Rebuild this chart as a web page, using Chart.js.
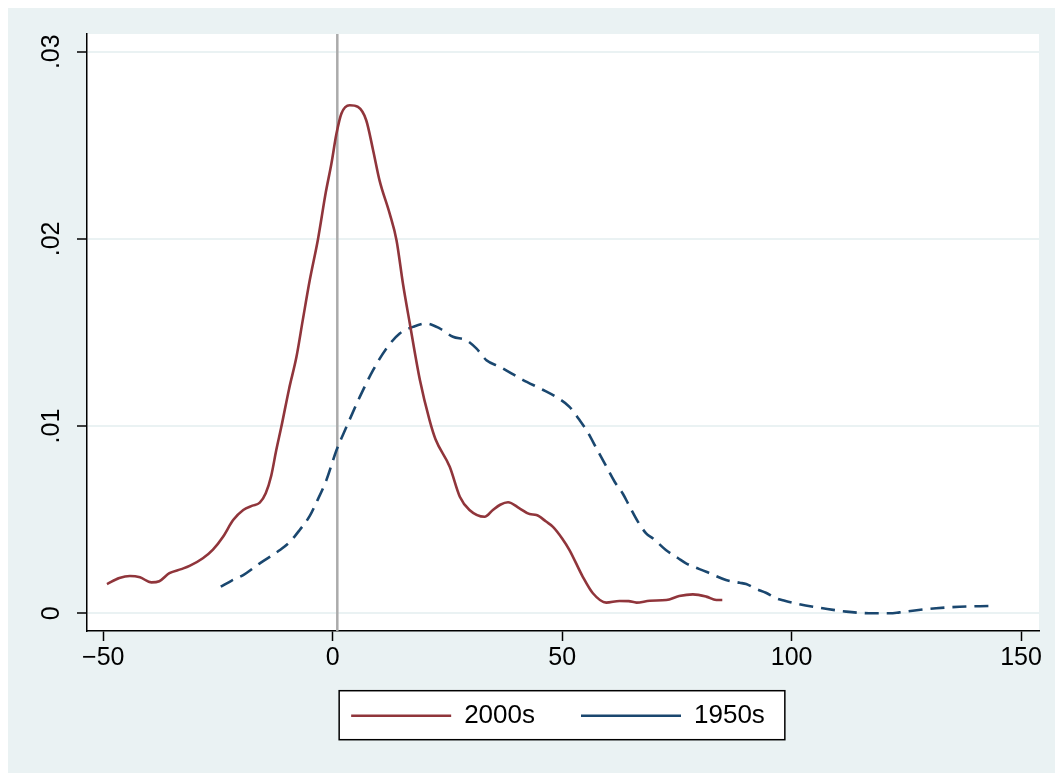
<!DOCTYPE html>
<html>
<head>
<meta charset="utf-8">
<script src="https://cdn.jsdelivr.net/npm/chart.js@4.4.1/dist/chart.umd.min.js"></script>
<style>
    html, body { margin: 0; padding: 0; background: #ffffff; }
    #wrap { position: absolute; left: 8px; top: 8px; width: 1047px; height: 765px; background: #eaf2f3; }
</style>
</head>
<body>
<div id="wrap"><canvas id="densityChart" width="1047" height="765"></canvas></div>
<script>
// density estimates
const x2000s = [-49.2, -46.5, -44.2, -42.0, -39.5, -37.8, -35.6, -33.0, -31.2, -28.3, -26.1, -23.9, -21.7, -19.5, -17.5, -15.9, -14.6, -13.4, -12.3, -11.2, -9.5, -7.9, -6.5, -5.0, -3.2, -1.5, -0.3, 0.8, 1.9, 3.7, 5.5, 7.3, 8.8, 10.2, 12.4, 13.9, 15.3, 16.8, 19.0, 21.1, 22.4, 25.5, 27.7, 29.8, 33.1, 34.9, 36.5, 38.2, 40.7, 42.9, 44.4, 46.5, 48.0, 50.0, 51.6, 54.5, 56.7, 59.6, 62.5, 64.5, 66.2, 69.1, 72.7, 75.5, 78.5, 81.4, 83.6, 84.9];
const y2000s = [0.00156, 0.00188, 0.00199, 0.00192, 0.00165, 0.00171, 0.00214, 0.00236, 0.00253, 0.00294, 0.0034, 0.00409, 0.00498, 0.00552, 0.00575, 0.00591, 0.00641, 0.00735, 0.00872, 0.00996, 0.012, 0.0137, 0.0157, 0.0178, 0.02, 0.0225, 0.024, 0.0256, 0.0267, 0.02714, 0.02705, 0.02634, 0.02474, 0.02313, 0.02136, 0.01993, 0.01762, 0.01548, 0.01246, 0.01032, 0.0093, 0.00783, 0.00623, 0.00552, 0.00516, 0.00552, 0.0058, 0.00593, 0.00561, 0.0053, 0.00525, 0.0049, 0.00462, 0.004, 0.00338, 0.00195, 0.00107, 0.00057, 0.00066, 0.00065, 0.00057, 0.00067, 0.00071, 0.00092, 0.00101, 0.00089, 0.00071, 0.00071];

const x1950s = [-24.4, -22.0, -19.5, -15.9, -11.5, -9.4, -7.2, -5.0, -3.6, -1.4, 0.8, 3.0, 5.9, 8.8, 11.7, 14.6, 17.5, 20.4, 23.3, 26.2, 29.1, 31.3, 33.5, 36.4, 41.5, 45.5, 48.7, 51.6, 53.8, 55.5, 57.5, 59.5, 61.5, 63.2, 64.5, 66.5, 68.3, 69.8, 72.6, 75.3, 77.0, 81.4, 85.7, 88.7, 90.1, 92.3, 94.4, 96.7, 98.5, 101.7, 106.8, 111.9, 117.7, 121.4, 123.5, 126.4, 131.5, 136.6, 143.1];
const y1950s = [0.00142, 0.00175, 0.00204, 0.00267, 0.00338, 0.0038, 0.00445, 0.0052, 0.0059, 0.0071, 0.0087, 0.00996, 0.01156, 0.01299, 0.01415, 0.01495, 0.0153, 0.01548, 0.01522, 0.01477, 0.01459, 0.01415, 0.01352, 0.01317, 0.01246, 0.01198, 0.01156, 0.01103, 0.01032, 0.0097, 0.0088, 0.0079, 0.007, 0.0064, 0.0058, 0.0049, 0.00427, 0.004, 0.00338, 0.00294, 0.00267, 0.00222, 0.00178, 0.00163, 0.00156, 0.0013, 0.0011, 0.0008, 0.00067, 0.00048, 0.00027, 0.00009, 0.0, 0.0, 0.00005, 0.00014, 0.00027, 0.00035, 0.00039];

const seriesLabels = ["2000s", "1950s"];
const xTicks = [-50, 0, 50, 100, 150];
const yTicks = [0, 0.01, 0.02, 0.03];
const refLineX = 1;
const xRange = [-53.55, 153.92];
const yRange = [-0.000946, 0.030946];

const maroon = "#90353b";
const navy = "#1a476f";
const bgColor = "#eaf2f3";
const fontFamily = "'Liberation Sans', Arial, Helvetica, sans-serif";
const legendShiftX = -5;
const legendShiftY = -19.3;

function toPoints(xs, ys) {
    return xs.map((x, i) => ({ x: x, y: ys[i] }));
}

function formatY(val) {
    if (val === 0) return "0";
    return val.toFixed(2).replace(/^0/, "");
}

function formatX(val) {
    return val < 0 ? "\u2212" + Math.abs(val) : String(val);
}

// white plot region and the boxed legend
const stataFrame = {
    id: "stataFrame",
    afterLayout(chart) {
        const lg = chart.legend;
        lg.left += legendShiftX;
        lg.right += legendShiftX;
        lg.top += legendShiftY;
        lg.bottom += legendShiftY;
    },
    beforeDraw(chart) {
        const { ctx, chartArea } = chart;
        ctx.save();
        ctx.fillStyle = "#ffffff";
        ctx.fillRect(chartArea.left, chartArea.top, chartArea.right - chartArea.left, chartArea.bottom - chartArea.top);
        const boxes = chart.legend.legendHitBoxes || [];
        if (boxes.length) {
            const first = boxes[0];
            const last = boxes[boxes.length - 1];
            const x0 = first.left - 12;
            const x1 = last.left + last.width + 20;
            const y0 = first.top - 12;
            const y1 = first.top + first.height + 11;
            ctx.fillRect(x0, y0, x1 - x0, y1 - y0);
            ctx.strokeStyle = "#000000";
            ctx.lineWidth = 1.5;
            ctx.strokeRect(x0, y0, x1 - x0, y1 - y0);
        }
        ctx.restore();
    },
};

const ctx = document.getElementById("densityChart").getContext("2d");

new Chart(ctx, {
    type: "line",
    data: {
        datasets: [
            {
                label: seriesLabels[0],
                data: toPoints(x2000s, y2000s),
                borderColor: maroon,
                backgroundColor: maroon,
                borderWidth: 2.6,
                pointRadius: 0,
                cubicInterpolationMode: "monotone",
                fill: false,
            },
            {
                label: seriesLabels[1],
                data: toPoints(x1950s, y1950s),
                borderColor: navy,
                backgroundColor: navy,
                borderWidth: 2.6,
                borderDash: [14, 8],
                pointRadius: 0,
                cubicInterpolationMode: "monotone",
                fill: false,
            },
            {
                label: "ref",
                data: [
                    { x: refLineX, y: yRange[0] },
                    { x: refLineX, y: yRange[1] },
                ],
                borderColor: "#ababab",
                borderWidth: 2.5,
                pointRadius: 0,
                fill: false,
            },
        ],
    },
    options: {
        responsive: false,
        animation: false,
        events: [],
        layout: {
            padding: { left: 0, top: 26, right: 16, bottom: 15 },
        },
        scales: {
            x: {
                type: "linear",
                min: xRange[0],
                max: xRange[1],
                afterBuildTicks: (scale) => {
                    scale.ticks = xTicks.map((v) => ({ value: v }));
                },
                afterFit: (scale) => {
                    scale.height = 45;
                },
                border: { color: "#000000", width: 1.5 },
                grid: {
                    drawOnChartArea: false,
                    drawTicks: true,
                    tickLength: 10,
                    tickColor: "#000000",
                    tickWidth: 1.5,
                },
                ticks: {
                    color: "#000000",
                    padding: 2,
                    maxRotation: 0,
                    minRotation: 0,
                    font: { family: fontFamily, size: 25 },
                    callback: (val) => formatX(val),
                },
            },
            y: {
                type: "linear",
                min: yRange[0],
                max: yRange[1],
                afterBuildTicks: (scale) => {
                    scale.ticks = yTicks.map((v) => ({ value: v }));
                },
                afterFit: (scale) => {
                    scale.width = 79;
                },
                border: { color: "#000000", width: 1.5 },
                grid: {
                    color: bgColor,
                    lineWidth: 2,
                    tickLength: 10,
                    tickColor: "#000000",
                    tickWidth: 1.5,
                },
                ticks: {
                    color: "#000000",
                    padding: 8,
                    minRotation: 90,
                    maxRotation: 90,
                    crossAlign: "center",
                    font: { family: fontFamily, size: 25 },
                    callback: (val) => formatY(val),
                },
            },
        },
        plugins: {
            title: { display: false },
            tooltip: { enabled: false },
            legend: {
                display: true,
                position: "bottom",
                fullSize: false,
                labels: {
                    usePointStyle: true,
                    pointStyle: "line",
                    pointStyleWidth: 100,
                    padding: 46,
                    color: "#000000",
                    font: { family: fontFamily, size: 26 },
                    filter: (item) => item.datasetIndex < 2,
                },
            },
        },
    },
    plugins: [stataFrame],
});
</script>
</body>
</html>
